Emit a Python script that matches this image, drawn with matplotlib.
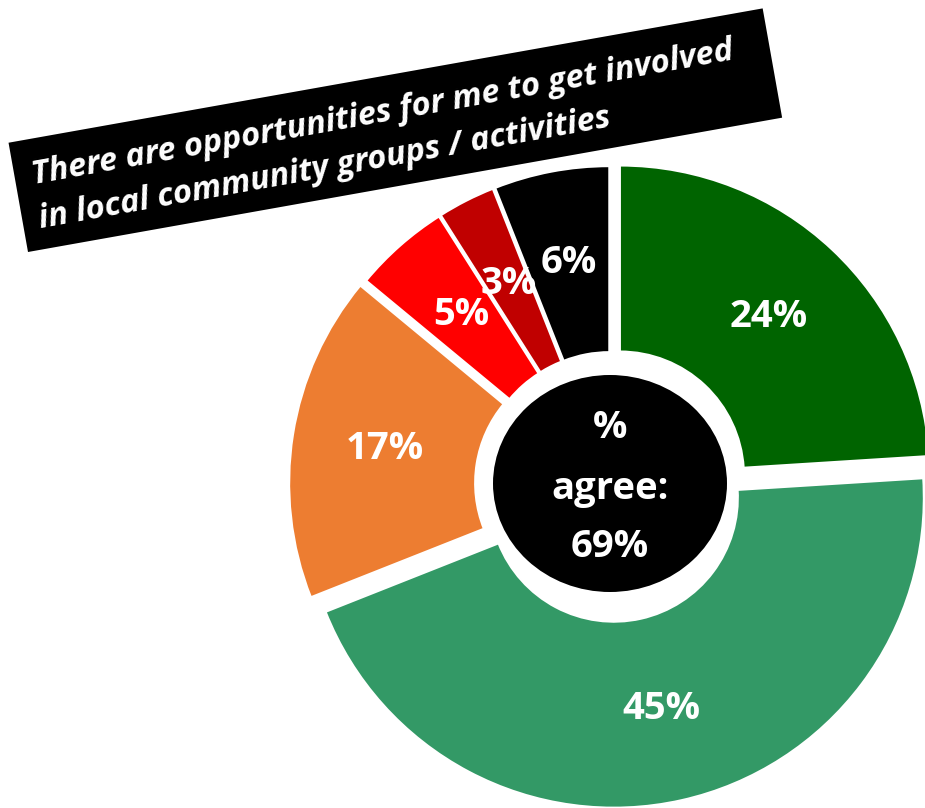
import matplotlib.pyplot as plt
from matplotlib.patches import Rectangle, Ellipse

# data
labels = ['Strongly agree', 'Agree', 'Neither', 'Disagree', 'Strongly disagree', "Don't know"]
values = [24, 45, 17, 5, 3, 6]
colors = ['#006400', '#339966', '#ED7D31', '#FF0000', '#C00000', '#000000']
explode = [13, 13, 12, 9, 9, 9]   # pixels
title_lines = ['There are opportunities for me to get involved',
               'in local community groups / activities']

W, H = 925, 808
plt.rcParams['font.family'] = ['Open Sans', 'DejaVu Sans']

fig = plt.figure(figsize=(W / 100, H / 100), dpi=100)
ax = fig.add_axes([0, 0, 1, 1])

cx, cy = 611, H - 485
R = 310
wedges, texts, autotexts = ax.pie(values, colors=colors, explode=explode, radius=R,
                                  center=(cx, cy), startangle=90, counterclock=False,
                                  autopct=lambda p: '%.0f%%' % p, pctdistance=0.70,
                                  wedgeprops=dict(width=186, edgecolor='white', linewidth=1.5),
                                  textprops=dict(color='white', fontsize=27.5, fontweight='bold'))

# centre circle
ax.add_patch(Ellipse((610, H - 483.5), 234, 217, facecolor='black', edgecolor='none', zorder=3))
agree = values[0] + values[1]
for dy, s in [(57, '%'), (-4, 'agree:'), (-62, '%d%%' % agree)]:
    ax.text(610, H - 485 + dy, s, color='white', fontsize=27.5, fontweight='bold',
            ha='center', va='center', zorder=4)

# title box
ax.add_patch(Rectangle((28, H - 252), 766, 111, angle=10.1, facecolor='black',
                       edgecolor='none', zorder=5))
ax.text(34, H - 184, title_lines[0], color='white', fontsize=23.6, fontweight='bold',
        fontstyle='italic', rotation=10.1, rotation_mode='anchor', ha='left',
        va='baseline', zorder=6)
ax.text(41, H - 228, title_lines[1], color='white', fontsize=23.6, fontweight='bold',
        fontstyle='italic', rotation=10.1, rotation_mode='anchor', ha='left',
        va='baseline', zorder=6)

ax.set_xlim(0, W)
ax.set_ylim(0, H)
ax.set_aspect('equal')
ax.axis('off')
fig.savefig('out.png', dpi=100, facecolor='white')
